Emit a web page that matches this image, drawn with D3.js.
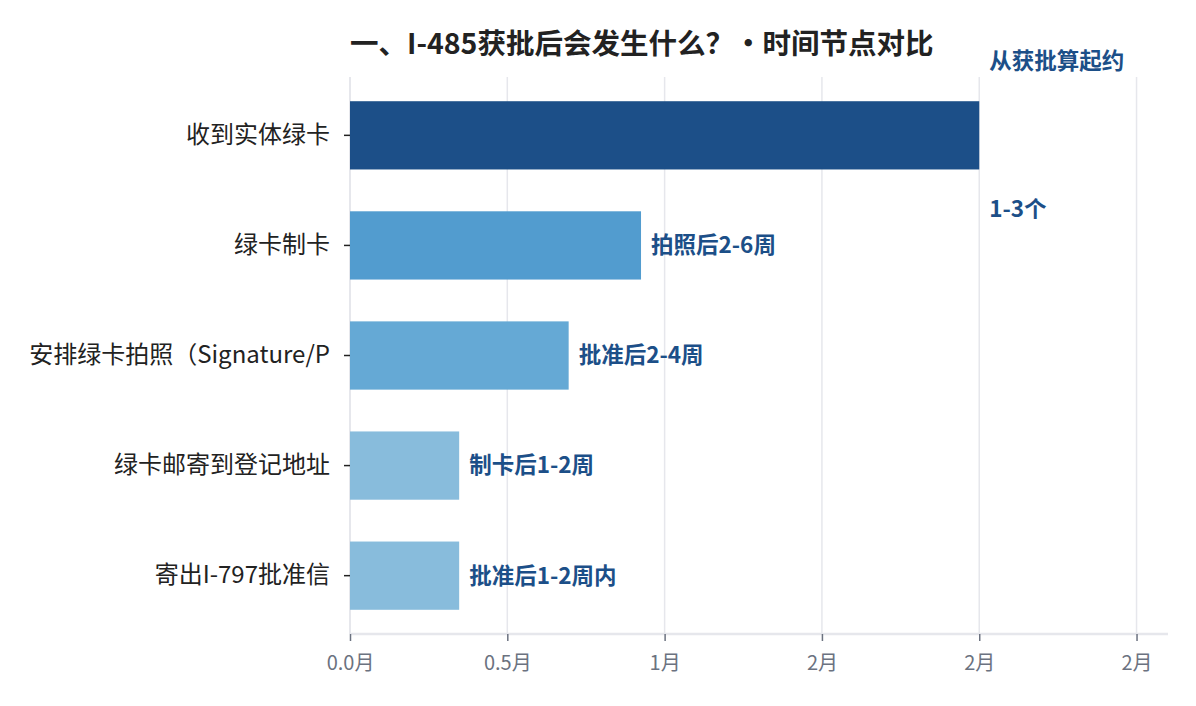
<!DOCTYPE html>
<html><head><meta charset="utf-8">
<script src="https://cdn.jsdelivr.net/npm/d3@7"></script>
<style>body{margin:0;background:#fff;} text{font-family:"Noto Sans CJK SC","Noto Sans",sans-serif;}</style>
</head><body><svg id="c" width="1196" height="706"></svg>
<script>
const categories = ["收到实体绿卡","绿卡制卡","安排绿卡拍照（Signature/P","绿卡邮寄到登记地址","寄出I-797批准信"];
const values = [2.0, 0.925, 0.695, 0.347, 0.347];
const labels = [["从获批算起约","1-3个"],["拍照后2-6周"],["批准后2-4周"],["制卡后1-2周"],["批准后1-2周内"]];
const colors = ["#1c4f88","#529ccf","#65a9d5","#88bcdc","#88bcdc"];
const tickValues = [0,0.5,1,1.5,2,2.5];
const tickLabels = ["0.0月","0.5月","1月","2月","2月","2月"];
const title = "一、I-485获批后会发生什么？•时间节点对比";

const svg = d3.select("#c");
const m = {l:350, r:1168, t:77, b:634};
const x = d3.scaleLinear().domain([0,2.6]).range([m.l, m.r]);
const y = d3.scaleBand().domain(categories).range([m.t, m.b]).paddingInner(0.38).paddingOuter(0.22);

// grid
svg.append("g").selectAll("line").data(tickValues.slice(1)).join("line")
  .attr("x1",d=>x(d)).attr("x2",d=>x(d)).attr("y1",m.t).attr("y2",m.b)
  .attr("stroke","#e6e7ec").attr("stroke-width",1.5);
svg.append("line").attr("x1",m.l).attr("x2",m.l).attr("y1",m.t).attr("y2",m.b)
  .attr("stroke","#e6e7ec").attr("stroke-width",2);

// bars
svg.append("g").selectAll("rect").data(categories).join("rect")
  .attr("x",x(0)).attr("y",d=>y(d)).attr("width",(d,i)=>x(values[i])-x(0))
  .attr("height",y.bandwidth()).attr("fill",(d,i)=>colors[i]);

// x axis
const xa = svg.append("g").attr("transform",`translate(0,${m.b})`)
  .call(d3.axisBottom(x).tickValues(tickValues).tickFormat((d,i)=>tickLabels[i]).tickSize(7).tickPadding(15));
xa.select(".domain").attr("stroke","#e6e7ec").attr("stroke-width",2.5).attr("d",`M${m.l},0H${m.r}`);
xa.selectAll(".tick line").attr("stroke","#6b7280").attr("stroke-width",1.5);
xa.selectAll(".tick text").attr("fill","#6b7280").style("font-size","20px");

// y axis
const ya = svg.append("g").attr("transform",`translate(${m.l},0)`)
  .call(d3.axisLeft(y).tickSize(6).tickPadding(14));
ya.select(".domain").remove();
ya.selectAll(".tick line").attr("stroke","#222").attr("stroke-width",1.5);
ya.selectAll(".tick text").attr("fill","#222").style("font-size","24px");

// value labels
const lg = svg.append("g");
categories.forEach((c,i)=>{
  const cy = y(c)+y.bandwidth()/2;
  const lines = labels[i];
  const offs = lines.length===1 ? [0] : [-74, 74];
  lines.forEach((t,j)=>{
    lg.append("text").attr("x",x(values[i])+10).attr("y",cy+offs[j]).attr("dy","0.35em")
      .attr("fill","#1c4f88").style("font-size","22.5px").style("font-weight","700").text(t);
  });
});

// title
svg.append("text").attr("x",m.l).attr("y",54).attr("fill","#222")
  .style("font-size","28.5px").style("font-weight","700").text(title);
</script></body></html>
